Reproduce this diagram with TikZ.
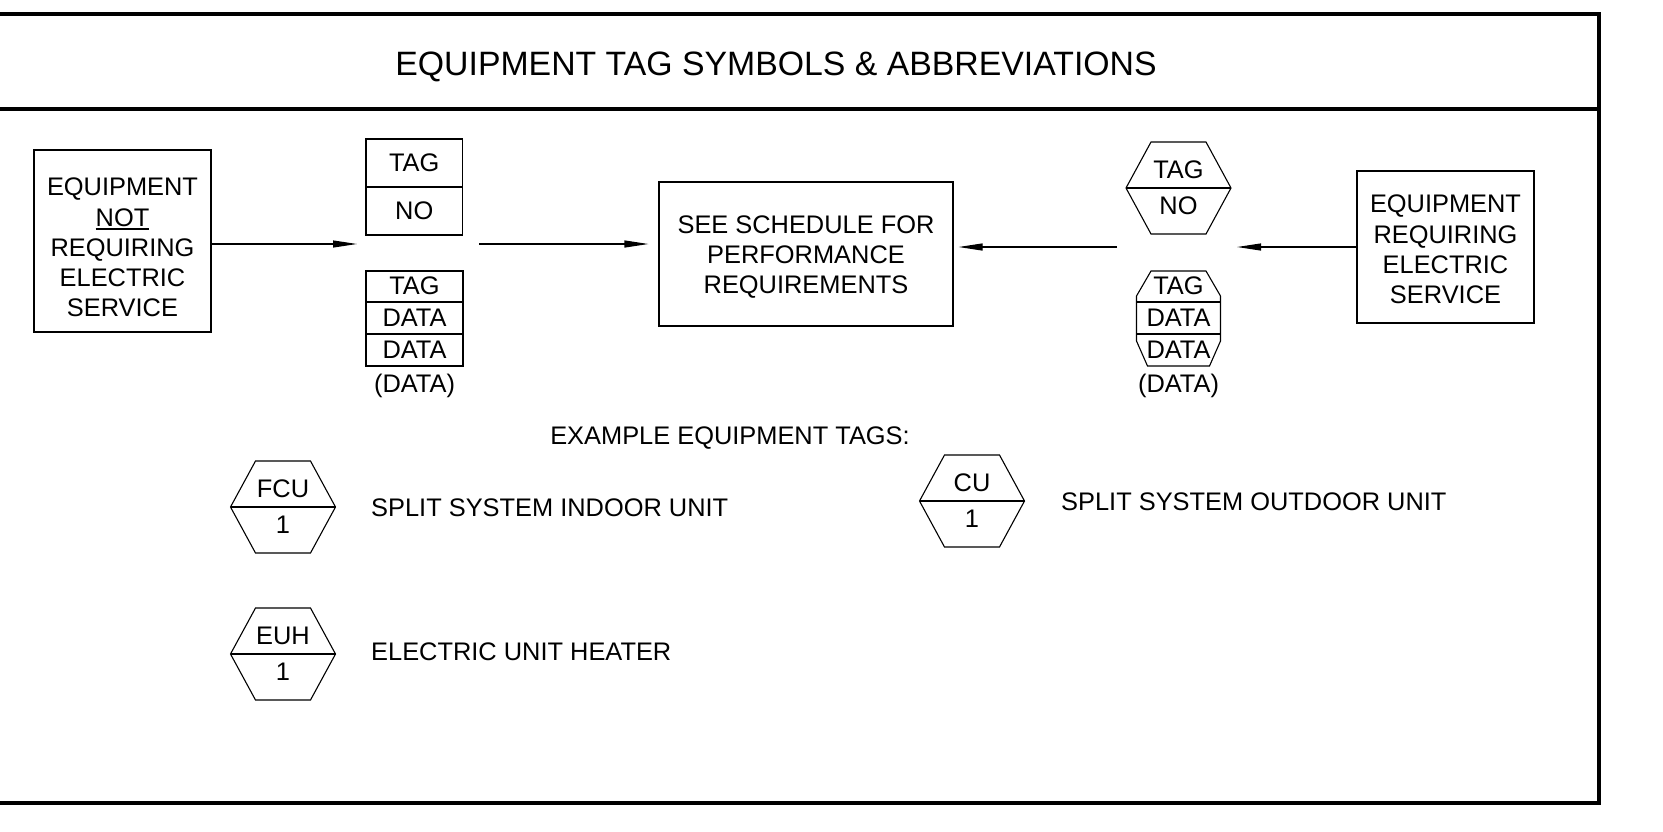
\documentclass[tikz,border=0pt]{standalone}
\usepackage{fontspec}
\setmainfont{Liberation Sans}
\usetikzlibrary{arrows.meta}
\newcommand\bodyfont{\fontsize{25.4}{30.2}\selectfont}
\newcommand\titlefont{\fontsize{33.8}{40}\selectfont}
\newcommand\ulword[1]{\setbox0\hbox{#1}\rlap{\rule[-3.5pt]{\wd0}{1.3pt}}\box0}
% name, x centre, y of middle line, top text, bottom text
\newcommand\hextag[5]{%
  \draw[thinline] (#2-27.5,#3-46) -- (#2+27.5,#3-46) -- (#2+52.5,#3) -- (#2+27.5,#3+46)
     -- (#2-27.5,#3+46) -- (#2-52.5,#3) -- cycle;
  \draw[thinline] (#2-52.5,#3) -- (#2+52.5,#3);
  \node[txt, anchor=base] (#1t) at (#2,#3-10) {#4};
  \node[txt, anchor=base] (#1b) at (#2,#3+26) {#5};
}
\begin{document}
\begin{tikzpicture}[x=1pt, y=-1pt,
  thinline/.style={line width=1.1pt, line join=miter},
  box/.style={draw, line width=1.1pt, inner sep=0pt},
  frameline/.style={line width=3.8pt, line join=miter},
  arr/.style={-{Triangle[length=24pt,width=7pt]}, line width=1.1pt},
  txt/.style={font=\bodyfont, inner sep=0pt, align=center}]
\useasboundingbox (0,0) rectangle (1663,831);

% frame
\draw[frameline] (-10,14) -- (1599,14) -- (1599,803) -- (-10,803);
\draw[frameline] (-10,109) -- (1599,109);
\node[font=\titlefont, inner sep=0pt, anchor=base] (title) at (776,75) {EQUIPMENT TAG SYMBOLS \& ABBREVIATIONS};

% left box
\node[box, minimum width=177pt, minimum height=182pt] (lbox) at (122.5,241) {};
\node[txt] (ltext) at (122.5,247.5) {EQUIPMENT\\\ulword{NOT}\\REQUIRING\\ELECTRIC\\SERVICE};

% rectangular tag
\node[box, minimum width=96.5pt, minimum height=96pt] (tagbox) at (414.25,187) {};
\draw[thinline] (tagbox.west) -- (tagbox.east);
\node[txt] (tagboxA) at (414.25,163) {TAG};
\node[txt] (tagboxB) at (414.25,211) {NO};

% rectangular data tag
\node[box, minimum width=97pt, minimum height=95pt] (databox) at (414.5,318.5) {};
\draw[thinline] (databox.west |- 0,302) -- (databox.east |- 0,302);
\draw[thinline] (databox.west |- 0,334) -- (databox.east |- 0,334);
\node[txt] (dbA) at (414.5,286) {TAG};
\node[txt] (dbB) at (414.5,317.5) {DATA};
\node[txt] (dbC) at (414.5,349.5) {DATA};
\node[txt, anchor=base] (dbD) at (414.5,392) {(DATA)};

% centre box
\node[box, minimum width=294pt, minimum height=144pt] (cbox) at (806,254) {};
\node[txt] (ctext) at (806,257) {SEE SCHEDULE FOR\\PERFORMANCE\\REQUIREMENTS};

% right box
\node[box, minimum width=177pt, minimum height=152pt] (rbox) at (1445.5,247) {};
\node[txt] (rtext) at (1445.5,249.5) {EQUIPMENT\\REQUIRING\\ELECTRIC\\SERVICE};

% hexagonal tag
\hextag{hexA}{1178.5}{188}{TAG}{NO}

% hexagonal data tag
\draw[thinline] (1151,271) -- (1206,271) -- (1220.5,296) -- (1220.5,341) -- (1209.5,366)
  -- (1147.5,366) -- (1136.5,341) -- (1136.5,296) -- cycle;
\draw[thinline] (1136.5,302) -- (1220.5,302);
\draw[thinline] (1136.5,334) -- (1220.5,334);
\node[txt] (dhA) at (1178.5,286) {TAG};
\node[txt] (dhB) at (1178.5,317.5) {DATA};
\node[txt] (dhC) at (1178.5,349.5) {DATA};
\node[txt, anchor=base] (dhD) at (1178.5,392) {(DATA)};

% arrows
\coordinate (a1end) at (357,244);
\coordinate (a2start) at (479,244);
\coordinate (a3start) at (1117,247);
\coordinate (a4end) at (1237,247);
\draw[arr] (lbox.east |- a1end) -- (a1end);
\draw[arr] (a2start) -- ([xshift=-10pt]cbox.west |- a2start);
\draw[arr] (a3start) -- ([xshift=5pt]cbox.east |- a3start);
\draw[arr] (rbox.west |- a4end) -- (a4end);

% examples
\node[txt, anchor=base] (exlbl) at (730,444) {EXAMPLE EQUIPMENT TAGS:};
\hextag{fcu}{283}{507}{FCU}{1}
\node[txt, anchor=base west] (fculbl) at (371,516) {SPLIT SYSTEM INDOOR UNIT};
\hextag{euh}{283}{654}{EUH}{1}
\node[txt, anchor=base west] (euhlbl) at (371,660) {ELECTRIC UNIT HEATER};
\hextag{cu}{972}{501}{CU}{1}
\node[txt, anchor=base west] (culbl) at (1061,510) {SPLIT SYSTEM OUTDOOR UNIT};
\end{tikzpicture}
\end{document}
